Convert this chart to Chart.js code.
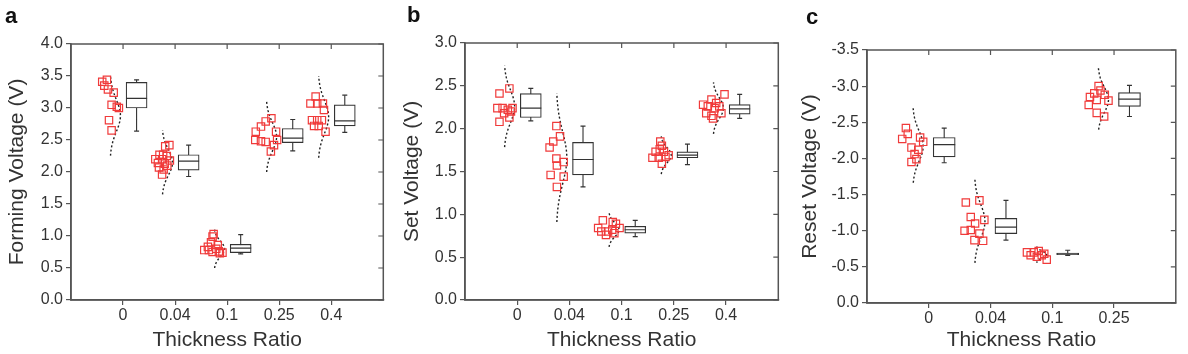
<!DOCTYPE html>
<html>
<head>
<meta charset="utf-8">
<title>Thickness Ratio</title>
<script src="https://cdn.jsdelivr.net/npm/chart.js@4.4.1/dist/chart.umd.min.js"></script>
<style>
  body { margin: 0; background: #fff; }
  #wrap { position: relative; width: 1188px; height: 354px; overflow: hidden; }
  canvas { position: absolute; top: 0; }
  .lbl { position: absolute; font: bold 22px "Liberation Sans", Arial, sans-serif; line-height: 22px; color: #111; }
</style>
</head>
<body>
<div id="wrap">
  <canvas id="chartA" width="395" height="354" style="left:0px"></canvas>
  <canvas id="chartB" width="395" height="354" style="left:395px"></canvas>
  <canvas id="chartC" width="398" height="354" style="left:790px"></canvas>
  <div class="lbl" style="left:5px;top:5px">a</div>
  <div class="lbl" style="left:407px;top:4px">b</div>
  <div class="lbl" style="left:806px;top:6px">c</div>
</div>
<script>
// ---- data ----
const ratios = ["0", "0.04", "0.1", "0.25", "0.4"];
const ratiosReset = ["0", "0.04", "0.1", "0.25"];

// forming voltage (panel a): points, their sideways jitter, box [min,q1,med,q3,max], fit [mean,sd]
const formingVals = [
  [3.41, 3.44, 3.35, 3.29, 3.24, 3.05, 3.02, 3.00, 2.81, 2.65],
  [2.20, 2.27, 2.27, 2.14, 2.20, 2.40, 2.42, 2.25, 2.18, 2.13, 2.07, 2.04, 1.96, 2.10],
  [0.78, 0.83, 0.90, 0.99, 1.03, 0.80, 0.76, 0.74, 0.75, 0.78, 0.73, 0.86],
  [2.63, 2.71, 2.79, 2.84, 2.50, 2.48, 2.47, 2.63, 2.50, 2.42, 2.32],
  [3.07, 3.18, 3.07, 3.07, 2.81, 2.81, 2.81, 2.72, 2.72, 2.63, 2.97]
];
const formingJit = [
  [-0.40, -0.31, -0.36, -0.29, -0.18, -0.22, -0.12, -0.08, -0.27, -0.22],
  [-0.38, -0.30, -0.23, -0.33, -0.25, -0.19, -0.11, -0.16, -0.10, -0.20, -0.31, -0.22, -0.25, -0.15],
  [-0.44, -0.37, -0.31, -0.28, -0.26, -0.21, -0.16, -0.09, -0.28, -0.35, -0.14, -0.18],
  [-0.45, -0.35, -0.26, -0.15, -0.46, -0.35, -0.26, -0.06, -0.04, -0.10, -0.16],
  [-0.40, -0.30, -0.27, -0.16, -0.37, -0.27, -0.18, -0.33, -0.24, -0.11, -0.14]
];
const formingBox = [
  [2.64, 3.00, 3.15, 3.40, 3.44],
  [1.93, 2.03, 2.17, 2.27, 2.42],
  [0.72, 0.74, 0.81, 0.87, 1.02],
  [2.33, 2.46, 2.53, 2.68, 2.82],
  [2.62, 2.72, 2.80, 3.05, 3.20]
];
const formingFit = [[2.88, 0.25], [2.15, 0.20], [0.80, 0.12], [2.55, 0.22], [2.86, 0.255]];

// set voltage (panel b)
const setVals = [
  [2.41, 2.47, 2.24, 2.24, 2.22, 2.24, 2.18, 2.13, 2.08, 2.20],
  [2.03, 1.85, 1.78, 1.91, 1.65, 1.57, 1.61, 1.46, 1.44, 1.32],
  [0.93, 0.84, 0.91, 0.89, 0.80, 0.80, 0.82, 0.76, 0.84, 0.78],
  [1.85, 1.80, 1.73, 1.73, 1.66, 1.66, 1.67, 1.69, 1.59, 1.76],
  [2.28, 2.34, 2.40, 2.18, 2.24, 2.26, 2.15, 2.18, 2.30, 2.26, 2.12]
];
const setJit = [
  [-0.34, -0.15, -0.38, -0.28, -0.18, -0.09, -0.25, -0.15, -0.34, -0.12],
  [-0.25, -0.31, -0.38, -0.18, -0.25, -0.24, -0.11, -0.36, -0.11, -0.24],
  [-0.36, -0.45, -0.17, -0.11, -0.39, -0.26, -0.18, -0.30, -0.04, -0.14],
  [-0.26, -0.23, -0.35, -0.19, -0.41, -0.29, -0.16, -0.10, -0.23, -0.27],
  [-0.44, -0.28, -0.03, -0.38, -0.22, -0.13, -0.28, -0.09, -0.19, -0.35, -0.25]
];
const setBox = [
  [2.09, 2.13, 2.24, 2.41, 2.47],
  [1.32, 1.46, 1.64, 1.84, 2.03],
  [0.74, 0.78, 0.82, 0.86, 0.93],
  [1.58, 1.66, 1.69, 1.73, 1.82],
  [2.12, 2.17, 2.23, 2.28, 2.40]
];
const setFit = [[2.26, 0.19], [1.66, 0.30], [0.82, 0.08], [1.69, 0.088], [2.24, 0.12]];

// reset voltage (panel c)
const resetVals = [
  [-2.42, -2.34, -2.27, -2.29, -2.23, -2.15, -2.12, -2.06, -1.95, -1.99],
  [-1.39, -1.42, -1.19, -1.00, -1.01, -1.10, -1.15, -0.96, -0.87, -0.86],
  [-0.70, -0.70, -0.72, -0.66, -0.66, -0.60, -0.64, -0.68],
  [-3.00, -2.85, -2.88, -2.80, -2.74, -2.81, -2.63, -2.58, -2.94, -2.90]
];
const resetJit = [
  [-0.37, -0.34, -0.43, -0.14, -0.09, -0.28, -0.17, -0.23, -0.28, -0.20],
  [-0.40, -0.18, -0.32, -0.42, -0.32, -0.25, -0.10, -0.18, -0.26, -0.12],
  [-0.41, -0.30, -0.22, -0.35, -0.17, -0.09, -0.25, -0.13],
  [-0.25, -0.39, -0.15, -0.09, -0.41, -0.28, -0.28, -0.16, -0.22, -0.32]
];
const resetBox = [
  [-2.42, -2.29, -2.19, -2.02, -1.94],
  [-1.42, -1.17, -1.05, -0.96, -0.87],
  [-0.73, -0.69, -0.68, -0.67, -0.66],
  [-3.01, -2.91, -2.82, -2.72, -2.58]
];
const resetFit = [[-2.17, 0.21], [-1.13, 0.23], [-0.67, 0.045], [-2.81, 0.175]];

// ---- drawing ----
const FONT = '"Liberation Sans", Arial, sans-serif';
const TXT = "#333";
const AXIS = "#555";
const RED = "#f03a3a";

Chart.defaults.font.family = FONT;

// box frame + inward ticks on top and right, like the original plot
const framePlugin = {
  id: "frame",
  afterDraw(chart) {
    const { ctx, chartArea: a, scales } = chart;
    ctx.save();
    ctx.strokeStyle = AXIS;
    ctx.lineWidth = 1.5;
    ctx.strokeRect(a.left, a.top, a.right - a.left, a.bottom - a.top);
    ctx.lineWidth = 1.2;
    ctx.beginPath();
    scales.x.ticks.forEach((t) => {
      const px = scales.x.getPixelForValue(t.value);
      ctx.moveTo(px, a.top);
      ctx.lineTo(px, a.top + 5);
    });
    scales.y.ticks.forEach((t) => {
      const py = scales.y.getPixelForValue(t.value);
      ctx.moveTo(a.right, py);
      ctx.lineTo(a.right - 5, py);
    });
    ctx.stroke();
    ctx.restore();
  }
};

function makePanel(id, p) {
  const pts = [], whisk = [], boxes = [], meds = [], caps = [];
  p.cats.forEach((c, i) => {
    const pos = i + 1;
    p.vals[i].forEach((v, j) => pts.push({ x: pos + p.jit[i][j], y: v }));
    const b = p.box[i];
    const bx = pos + p.boxShift;
    whisk.push({ x: bx, y: b[0] }, { x: bx, y: b[4] }, { x: bx, y: null });
    boxes.push({ x: bx, y: [b[1], b[3]] });
    meds.push({ x: bx, y: b[2] });
    caps.push({ x: bx, y: b[0] }, { x: bx, y: b[4] });
  });

  const datasets = [
    {
      type: "scatter", data: pts, pointStyle: "rect", pointRadius: 5.2,
      borderColor: RED, borderWidth: 1.2, backgroundColor: "rgba(255,255,255,0)", order: 0
    },
    {
      type: "scatter", data: meds, pointStyle: "line", pointRadius: p.boxW / 2,
      borderColor: "#333", borderWidth: 1.2, order: 2
    },
    {
      type: "scatter", data: caps, pointStyle: "line", pointRadius: 2.5,
      borderColor: "#333", borderWidth: 1.2, order: 2
    },
    {
      type: "bar", data: boxes, barThickness: p.boxW, backgroundColor: "#fff",
      borderColor: "#333", borderWidth: 1.2, borderSkipped: false, order: 3
    },
    {
      type: "line", data: whisk, borderColor: "#333", borderWidth: 1.1,
      pointRadius: 0, spanGaps: false, order: 4
    }
  ];

  // fitted normal curve beside each group (dotted)
  p.fit.forEach((f, i) => {
    const line = [];
    for (let k = 0; k <= 40; k++) {
      const z = -2.5 + (k * 5) / 40;
      line.push({ x: i + 1 + p.curveShift + p.curveW * Math.exp((-z * z) / 2), y: f[0] + z * f[1] });
    }
    datasets.push({
      type: "line", data: line, borderColor: "#222", borderWidth: 1.4,
      borderDash: [2, 2.2], pointRadius: 0, order: 1
    });
  });

  new Chart(document.getElementById(id), {
    type: "scatter",
    data: { datasets: datasets },
    options: {
      responsive: false,
      animation: false,
      devicePixelRatio: 1,
      layout: { padding: { left: 0, top: p.top, right: p.right, bottom: 0 } },
      plugins: { legend: { display: false }, tooltip: { enabled: false } },
      scales: {
        x: {
          type: "linear",
          offset: false,
          min: 0,
          max: p.cats.length + 1,
          afterBuildTicks: (s) => { s.ticks = p.cats.map((c, i) => ({ value: i + 1 })); },
          afterFit: (s) => { s.height = p.xH; },
          ticks: {
            callback: (v, i) => p.cats[i],
            color: TXT, font: { size: 16 }, padding: 1, maxRotation: 0, autoSkip: false
          },
          grid: { offset: false, drawOnChartArea: false, tickLength: 5, color: AXIS, lineWidth: 1.2 },
          border: { color: AXIS, width: 1.5 },
          title: { display: true, text: "Thickness Ratio", color: TXT, font: { size: 21 }, padding: { top: 0, bottom: 1.5 } }
        },
        y: {
          min: p.min,
          max: p.max,
          reverse: p.reverse,
          afterFit: (s) => { s.width = p.yW; },
          ticks: { stepSize: 0.5, callback: (v) => v.toFixed(1), color: TXT, font: { size: 16 }, padding: 3 },
          grid: { drawOnChartArea: false, tickLength: 5, color: AXIS, lineWidth: 1.2 },
          border: { color: AXIS, width: 1.5 },
          title: { display: true, text: p.yTitle, color: TXT, font: { size: 21 }, padding: { top: p.yTitlePad, bottom: 0 } }
        }
      }
    },
    plugins: [framePlugin]
  });
}

makePanel("chartA", {
  cats: ratios, vals: formingVals, jit: formingJit, box: formingBox, fit: formingFit,
  yTitle: "Forming Voltage (V)", min: 0, max: 4, reverse: false,
  top: 44, right: 10, yW: 71, xH: 54, yTitlePad: 4.4,
  boxShift: 0.26, boxW: 21, curveShift: -0.25, curveW: 0.2
});

makePanel("chartB", {
  cats: ratios, vals: setVals, jit: setJit, box: setBox, fit: setFit,
  yTitle: "Set Voltage (V)", min: 0, max: 3, reverse: false,
  top: 43, right: 7, yW: 70, xH: 54, yTitlePad: 4.9,
  boxShift: 0.26, boxW: 21, curveShift: -0.25, curveW: 0.2
});

makePanel("chartC", {
  cats: ratiosReset, vals: resetVals, jit: resetJit, box: resetBox, fit: resetFit,
  yTitle: "Reset Voltage (V)", min: -3.5, max: 0, reverse: true,
  top: 50, right: 10, yW: 77, xH: 51, yTitlePad: 7.4,
  boxShift: 0.25, boxW: 22, curveShift: -0.26, curveW: 0.17
});
</script>
</body>
</html>
